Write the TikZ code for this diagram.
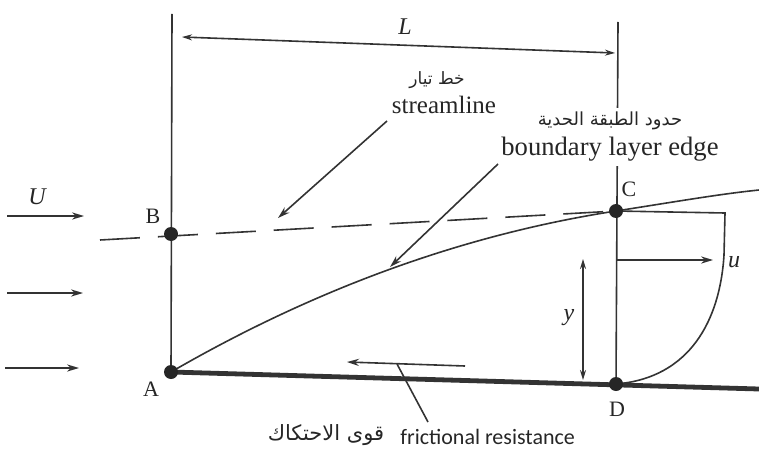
\documentclass[tikz,border=0pt]{standalone}
\usepackage{fontspec}
\setmainfont{Liberation Serif}
\newfontfamily\arabicfont[Script=Arabic]{DejaVu Sans}
\newfontfamily\calib{Carlito}
\TeXXeTstate=1
\usetikzlibrary{arrows.meta}
\begin{document}
\begin{tikzpicture}[x=0.5pt,y=-0.5pt,
  ln/.style={line width=0.8pt, draw=black!80},
  plate/.style={line width=2.4pt, draw=black!80},
  arr/.style={-{Stealth[length=6pt,width=3.6pt]}},
  darr/.style={{Stealth[length=5pt,width=3pt]}-{Stealth[length=5pt,width=3pt]}},
  dot/.style={circle, fill=black!85, inner sep=0pt, minimum size=7pt},
  lbl/.style={font=\fontsize{11}{13}\selectfont, text=black!85, inner sep=1pt},
  ital/.style={font=\fontsize{12}{14}\selectfont\itshape, text=black!85, inner sep=1pt},
  ar/.style={font=\arabicfont\fontsize{8.5}{10}\selectfont, text=black!85, inner sep=1pt},
  en/.style={font=\fontsize{12.5}{15}\selectfont, text=black!85, inner sep=1pt}
]
\useasboundingbox (0,0) rectangle (759,460);
% key points
\coordinate (A) at (171,372);
\coordinate (B) at (171,234);
\coordinate (C) at (616,211);
\coordinate (D) at (616,384);
\coordinate (Ptop) at (172,14);
\coordinate (Qtop) at (618,22);
\coordinate (Pend) at (759,389);
\coordinate (Send) at (100,240);
\coordinate (Eend) at (759,190);
% vertical lines
\draw[ln] (Ptop) -- (A);
\draw[ln] (Qtop) -- (D);
% L dimension
\coordinate (L1) at (182,37);
\coordinate (L2) at (615,53);
\draw[ln, darr] (L1) -- (L2);
\node[ital] (Llab) at (405,27) {L};
% plate
\draw[plate] (A) -- (Pend);
% streamline
\draw[ln, dash pattern=on 20pt off 9pt] (Send) -- (C);
% boundary layer edge
\draw[ln] (A) .. controls (330,280) and (480,232) .. (C) .. controls (680,201) and (720,194) .. (Eend);
% velocity profile
\coordinate (pr1) at (725,213);
\coordinate (pr2) at (724,255);
\draw[ln] (C) -- (pr1) -- (pr2) .. controls (720,320) and (690,378) .. (D);
\coordinate (u0) at (616,260);
\coordinate (u1) at (713,260);
\draw[ln, arr] (u0) -- (u1);
\node[ital] (ulab) at (734,262) {u};
% y dimension
\coordinate (y0) at (583,259);
\coordinate (y1) at (583,380);
\draw[ln, darr] (y0) -- (y1);
\node[ital] (ylab) at (569,318) {y};
% free stream arrows
\coordinate (U1a) at (7,216);  \coordinate (U1b) at (84,216);
\coordinate (U2a) at (7,293);  \coordinate (U2b) at (83,293);
\coordinate (U3a) at (5,368);  \coordinate (U3b) at (79,368);
\draw[ln, arr] (U1a) -- (U1b);
\draw[ln, arr] (U2a) -- (U2b);
\draw[ln, arr] (U3a) -- (U3b);
\node[ital] (Ulab) at (37,197) {U};
% dots
\node[dot] (dA) at (A) {};
\node[dot] (dB) at (B) {};
\node[dot] (dC) at (C) {};
\node[dot] (dD) at (D) {};
\node[lbl] (lA) at (151,389) {A};
\node[lbl] (lB) at (153,216) {B};
\node[lbl] (lC) at (629,189) {C};
\node[lbl] (lD) at (617,409) {D};
% streamline label
\node[ar] (ar1) at (437,80) {\beginR خط تيار\endR};
\node[en] (sl) at (444,105) {streamline};
\coordinate (s0) at (387,121);
\coordinate (s1) at (278,218);
\draw[ln, arr] (s0) -- (s1);
% boundary layer label
\node[fill=white, inner sep=2pt, align=center, text=black!85] (ble) at (610,137)
  {{\arabicfont\fontsize{9}{10}\selectfont\beginR حدود الطبقة الحدية\endR}\\[3pt]
   {\fontsize{13.3}{15}\selectfont boundary layer edge}};
\coordinate (b0) at (498,164);
\coordinate (b1) at (390,267);
\draw[ln, arr] (b0) -- (b1);
% frictional resistance
\coordinate (f0) at (465,366);
\coordinate (f1) at (347,362);
\draw[ln, arr] (f0) -- (f1);
\coordinate (g0) at (397,364);
\coordinate (g1) at (428,422);
\draw[ln] (g0) -- (g1);
\node[font=\arabicfont\fontsize{10.5}{12}\selectfont, text=black!85, inner sep=1pt] (ar3) at (326,435) {\beginR قوى الاحتكاك\endR};
\node[font=\calib\fontsize{11}{13}\selectfont, text=black!85, inner sep=1pt, anchor=west] (fr) at (398,437) {frictional resistance};
\end{tikzpicture}
\end{document}
